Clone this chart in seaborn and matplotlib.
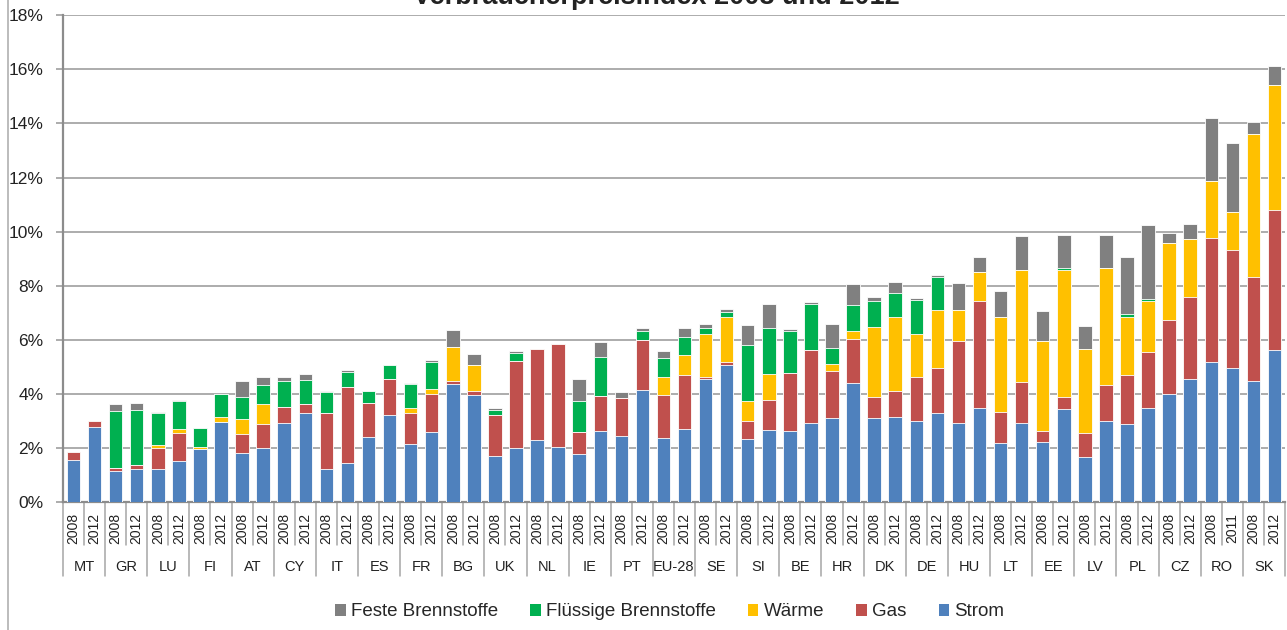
import numpy as np
import pandas as pd
import matplotlib
matplotlib.use("Agg")
import matplotlib.pyplot as plt
from matplotlib.patches import Patch
from matplotlib.lines import Line2D
import seaborn as sns

# ── Data (share of consumer price index, %) ──────────────────────────────────

COUNTRIES = ["MT", "GR", "LU", "FI", "AT", "CY", "IT", "ES", "FR", "BG",
             "UK", "NL", "IE", "PT", "EU-28", "SE", "SI", "BE", "HR", "DK",
             "DE", "HU", "LT", "EE", "LV", "PL", "CZ", "RO", "SK"]
YEARS = ["2008", "2012"] * 27 + ["2008", "2011", "2008", "2012"]

strom = [1.54, 2.76, 1.15, 1.23, 1.21, 1.50, 1.97, 2.97, 1.80, 2.01,
         2.93, 3.28, 1.23, 1.45, 2.41, 3.21, 2.15, 2.58, 4.38, 3.94,
         1.69, 2.00, 2.31, 2.04, 1.78, 2.62, 2.43, 4.14, 2.35, 2.69,
         4.56, 5.07, 2.32, 2.68, 2.62, 2.91, 3.11, 4.40, 3.10, 3.14,
         2.99, 3.31, 2.94, 3.46, 2.17, 2.94, 2.23, 3.43, 1.65, 2.99,
         2.89, 3.46, 3.98, 4.56, 5.19, 4.95, 4.49, 5.63]
gas = [0.32, 0.22, 0.11, 0.13, 0.79, 1.06, 0.00, 0.00, 0.71, 0.89,
       0.60, 0.36, 2.06, 2.80, 1.24, 1.33, 1.15, 1.41, 0.09, 0.18,
       1.52, 3.21, 3.34, 3.80, 0.80, 1.31, 1.43, 1.84, 1.59, 2.01,
       0.07, 0.09, 0.69, 1.11, 2.16, 2.73, 1.72, 1.61, 0.78, 0.98,
       1.64, 1.64, 3.00, 3.96, 1.15, 1.49, 0.41, 0.47, 0.89, 1.32,
       1.81, 2.08, 2.75, 3.01, 4.59, 4.38, 3.84, 5.16]
waerme = [0.00, 0.00, 0.00, 0.00, 0.10, 0.14, 0.06, 0.16, 0.57, 0.72,
          0.00, 0.00, 0.00, 0.00, 0.00, 0.00, 0.17, 0.18, 1.26, 0.93,
          0.00, 0.00, 0.00, 0.00, 0.00, 0.00, 0.00, 0.00, 0.68, 0.74,
          1.57, 1.70, 0.72, 0.95, 0.00, 0.00, 0.27, 0.30, 2.60, 2.73,
          1.58, 2.16, 1.17, 1.07, 3.54, 4.14, 3.31, 4.69, 3.13, 4.33,
          2.16, 1.90, 2.85, 2.15, 2.08, 1.41, 5.29, 4.62]
fluessig = [0.00, 0.00, 2.12, 2.06, 1.18, 1.05, 0.71, 0.86, 0.82, 0.69,
            0.93, 0.89, 0.76, 0.55, 0.46, 0.52, 0.88, 0.99, 0.00, 0.00,
            0.19, 0.30, 0.00, 0.00, 1.14, 1.45, 0.00, 0.33, 0.69, 0.68,
            0.22, 0.15, 2.08, 1.69, 1.53, 1.69, 0.58, 0.97, 0.94, 0.87,
            1.25, 1.20, 0.00, 0.00, 0.00, 0.00, 0.00, 0.08, 0.00, 0.00,
            0.08, 0.07, 0.00, 0.00, 0.00, 0.00, 0.00, 0.00]
feste = [0.00, 0.00, 0.24, 0.23, 0.04, 0.02, 0.00, 0.00, 0.56, 0.31,
         0.18, 0.21, 0.07, 0.08, 0.00, 0.00, 0.06, 0.09, 0.64, 0.42,
         0.09, 0.08, 0.00, 0.00, 0.84, 0.55, 0.20, 0.12, 0.26, 0.31,
         0.17, 0.14, 0.75, 0.89, 0.09, 0.07, 0.89, 0.79, 0.15, 0.40,
         0.07, 0.10, 0.99, 0.57, 0.93, 1.26, 1.11, 1.19, 0.84, 1.22,
         2.11, 2.72, 0.37, 0.56, 2.35, 2.54, 0.43, 0.70]

SERIES = ["Strom", "Gas", "Wärme", "Flüssige Brennstoffe", "Feste Brennstoffe"]
COLORS = {"Strom": "#4F81BD", "Gas": "#C0504D", "Wärme": "#FFC000",
          "Flüssige Brennstoffe": "#00B050", "Feste Brennstoffe": "#808080"}

FONT = "Liberation Sans"
GRID = "#A6A6A6"

# ── Build table with cumulative tops (stack drawn back to front) ─────────────

keys = [f"{COUNTRIES[i // 2]} {YEARS[i]}" for i in range(len(YEARS))]
df = pd.DataFrame({"key": keys, "Strom": strom, "Gas": gas, "Wärme": waerme,
                   "Flüssige Brennstoffe": fluessig,
                   "Feste Brennstoffe": feste})
cum = df[SERIES].cumsum(axis=1)

sns.set_theme(style="white")
plt.rcParams["font.family"] = [FONT, "DejaVu Sans"]

fig = plt.figure(figsize=(12.87, 6.30), dpi=100)
ax = fig.add_axes([63 / 1287, 1 - 502 / 630, 1222 / 1287, 486.7 / 630])

for s in reversed(SERIES):
    sns.barplot(x=df["key"], y=cum[s], order=keys, color=COLORS[s],
                saturation=1, width=0.64, errorbar=None, ax=ax,
                edgecolor="white", linewidth=0.6, zorder=3)

ax.set_xlim(-0.5, len(keys) - 0.5)
ax.set_ylim(0, 18)
ax.set_yticks(range(0, 19, 2))
ax.set_yticklabels([f"{v}%" for v in range(0, 19, 2)], fontsize=12.5,
                   color="#222222")
ax.yaxis.grid(True, color=GRID, linewidth=1.3, zorder=0)
ax.tick_params(axis="y", length=5, color=GRID, width=1.3, pad=9, left=True)
ax.set_xticks([])
ax.set_xlabel("")
ax.set_ylabel("")
for side in ["top", "right"]:
    ax.spines[side].set_visible(False)
ax.spines["left"].set_color("#8C8C8C")
ax.spines["left"].set_linewidth(1.6)
ax.spines["bottom"].set_color("#8C8C8C")
ax.spines["bottom"].set_linewidth(1.6)

# ── Two-level category axis ───────────────────────────────────────────────────

tr = ax.get_xaxis_transform()
px = 1 / 486.7
for b in range(len(keys) + 1):
    depth = -74 * px if b % 2 == 0 else -43 * px
    ax.plot([b - 0.5, b - 0.5], [0, depth], transform=tr, clip_on=False,
            color=GRID, linewidth=1.1)
for i, y in enumerate(YEARS):
    ax.text(i, -26 * px, y, transform=tr, rotation=90, ha="center",
            va="center", fontsize=10, color="#222222")
for j, c in enumerate(COUNTRIES):
    ax.text(2 * j + 0.5, -65 * px, c, transform=tr, ha="center",
            va="center", fontsize=10.5, color="#222222")

# ── Title, legend, frame ──────────────────────────────────────────────────────

fig.text(656 / 1287, 1 - 4 / 630, "Verbraucherpreisindex 2008 und 2012",
         ha="center", va="baseline", fontsize=19.5, fontweight="bold",
         color="#222222")

handles = [Patch(facecolor=COLORS[s], edgecolor="none")
           for s in reversed(SERIES)]
fig.legend(handles, list(reversed(SERIES)), loc="center",
           bbox_to_anchor=(670 / 1287, 1 - 612 / 630), ncol=5,
           frameon=False, fontsize=13.5, handlelength=0.55,
           handleheight=0.55, handletextpad=0.3, columnspacing=1.7)

fig.add_artist(Line2D([8 / 1287, 8 / 1287], [0, 1], color="#B0B0B0",
                      linewidth=1.2, transform=fig.transFigure))

fig.savefig("out.png", dpi=100)
